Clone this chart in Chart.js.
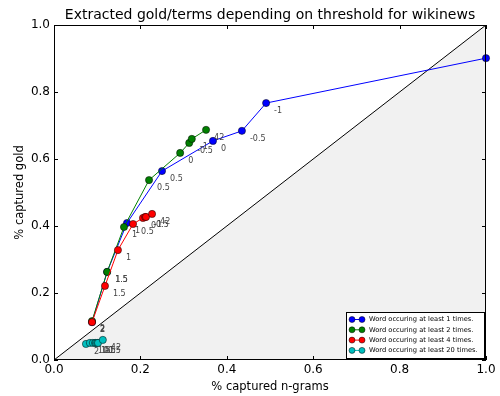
<!DOCTYPE html>
<html>
<head>
<meta charset="utf-8">
<script src="https://cdn.jsdelivr.net/npm/chart.js@4.4.1/dist/chart.umd.min.js"></script>
<style>
  body { margin: 0; background: #fff; }
  canvas { display: block; }
</style>
</head>
<body>
<canvas id="chart" width="500" height="396"></canvas>
<script>
// threshold value written next to every point
const thresholds = ['2', '1.5', '1', '0.5', '0', '-0.5', '-1', '42'];

const blueX  = [0.088, 0.123, 0.169, 0.250, 0.368, 0.435, 0.491, 1.000];
const blueY  = [0.113, 0.263, 0.409, 0.564, 0.654, 0.684, 0.767, 0.901];
const greenX = [0.088, 0.123, 0.162, 0.220, 0.292, 0.313, 0.319, 0.352];
const greenY = [0.116, 0.263, 0.397, 0.537, 0.618, 0.648, 0.660, 0.687];
const redX   = [0.088, 0.118, 0.148, 0.183, 0.206, 0.211, 0.213, 0.227];
const redY   = [0.113, 0.221, 0.328, 0.406, 0.424, 0.427, 0.427, 0.436];
const cyanX  = [0.074, 0.083, 0.090, 0.095, 0.097, 0.100, 0.102, 0.113];
const cyanY  = [0.048, 0.051, 0.051, 0.051, 0.051, 0.051, 0.051, 0.060];

const seriesNames = [
    'Word occuring at least 1 times.',
    'Word occuring at least 2 times.',
    'Word occuring at least 4 times.',
    'Word occuring at least 20 times.'
];
const seriesColors = ['#0000ff', '#008000', '#ff0000', '#00bfbf'];

const xTicks = [0, 0.2, 0.4, 0.6, 0.8, 1.0];
const yTicks = [0, 0.2, 0.4, 0.6, 0.8, 1.0];

const FONT = 'DejaVu Sans';

function pts(xs, ys) {
    return xs.map((x, i) => ({ x: x, y: ys[i] }));
}

function series(i, xs, ys) {
    return {
        label: seriesNames[i],
        data: pts(xs, ys),
        showLine: true,
        borderColor: seriesColors[i],
        borderWidth: 1,
        pointRadius: 3.6,
        pointBackgroundColor: seriesColors[i],
        pointBorderColor: '#000',
        pointBorderWidth: 0.5,
        order: 4 - i,
        clip: false,
        isSeries: true
    };
}

// frame, inward ticks, title, point labels and legend
const decor = {
    id: 'decor',
    afterDatasetsDraw(chart) {
        const c = chart.ctx;
        const a = chart.chartArea;

        // threshold labels
        c.save();
        c.beginPath();
        c.rect(a.left, a.top, a.right - a.left, a.bottom - a.top);
        c.clip();
        c.font = '8px "' + FONT + '"';
        c.fillStyle = '#444';
        c.textAlign = 'left';
        c.textBaseline = 'middle';
        chart.data.datasets.forEach((ds, di) => {
            if (!ds.isSeries) return;
            chart.getDatasetMeta(di).data.forEach((el, i) => {
                c.fillText(thresholds[i], el.x + 8, el.y + 8);
            });
        });
        c.restore();
    },
    afterDraw(chart) {
        const c = chart.ctx;
        const a = chart.chartArea;
        const xs = chart.scales.x, ys = chart.scales.y;
        c.save();

        // frame
        c.strokeStyle = '#000';
        c.lineWidth = 1;
        c.strokeRect(a.left + 0.5, a.top + 0.5, a.right - a.left - 1, a.bottom - a.top - 1);

        // ticks on all four sides, pointing inward
        c.beginPath();
        xTicks.forEach(v => {
            const px = Math.round(xs.getPixelForValue(v)) + 0.5;
            c.moveTo(px, a.bottom); c.lineTo(px, a.bottom - 4);
            c.moveTo(px, a.top); c.lineTo(px, a.top + 4);
        });
        yTicks.forEach(v => {
            const py = Math.round(ys.getPixelForValue(v)) + 0.5;
            c.moveTo(a.left, py); c.lineTo(a.left + 4, py);
            c.moveTo(a.right, py); c.lineTo(a.right - 4, py);
        });
        c.stroke();

        // title
        c.fillStyle = '#000';
        c.font = '14px "' + FONT + '"';
        c.textAlign = 'center';
        c.textBaseline = 'middle';
        c.fillText('Extracted gold/terms depending on threshold for wikinews', (a.left + a.right) / 2, 15);

        // legend box in the lower right corner
        const bx = 346, by = 312, bw = 138, bh = 46;
        c.fillStyle = '#fff';
        c.fillRect(bx, by, bw, bh);
        c.strokeStyle = '#000';
        c.lineWidth = 1;
        c.strokeRect(bx + 0.5, by + 0.5, bw, bh);
        c.font = '6.7px "' + FONT + '"';
        c.textAlign = 'left';
        c.textBaseline = 'middle';
        seriesNames.forEach((name, i) => {
            const ry = by + 7.5 + i * 10.3;
            c.strokeStyle = seriesColors[i];
            c.beginPath();
            c.moveTo(bx + 6, ry); c.lineTo(bx + 16, ry);
            c.stroke();
            [bx + 6, bx + 16].forEach(px => {
                c.beginPath();
                c.arc(px, ry, 3, 0, Math.PI * 2);
                c.fillStyle = seriesColors[i];
                c.fill();
                c.strokeStyle = '#000';
                c.lineWidth = 0.5;
                c.stroke();
                c.lineWidth = 1;
            });
            c.fillStyle = '#000';
            c.fillText(name, bx + 23, ry);
        });
        c.restore();
    }
};

const ctx = document.getElementById('chart').getContext('2d');
const chart = new Chart(ctx, {
    type: 'scatter',
    data: {
        datasets: [
            {
                label: 'diagonal',
                data: [{ x: 0, y: 0 }, { x: 1, y: 1 }],
                showLine: true,
                borderColor: '#000',
                borderWidth: 1,
                backgroundColor: '#f1f1f1',
                fill: 'origin',
                pointRadius: 0,
                order: 10
            },
            series(0, blueX, blueY),
            series(1, greenX, greenY),
            series(2, redX, redY),
            series(3, cyanX, cyanY)
        ]
    },
    options: {
        responsive: false,
        animation: false,
        layout: { padding: { top: 25, right: 14, left: 0, bottom: 0 } },
        plugins: {
            legend: { display: false },
            tooltip: { enabled: false },
            title: { display: false }
        },
        scales: {
            x: {
                type: 'linear',
                min: 0, max: 1,
                grid: { display: false, drawTicks: false },
                border: { display: false },
                afterBuildTicks: s => { s.ticks = xTicks.map(v => ({ value: v })); },
                ticks: {
                    padding: 3,
                    color: '#000',
                    font: { family: FONT, size: 12 },
                    maxRotation: 0,
                    callback: v => v.toFixed(1)
                },
                title: {
                    display: true,
                    text: '% captured n-grams',
                    color: '#000',
                    font: { family: FONT, size: 11.5 },
                    padding: { top: 2, bottom: 2 }
                },
                afterFit: s => { s.height = 36; }
            },
            y: {
                type: 'linear',
                min: 0, max: 1,
                grid: { display: false, drawTicks: false },
                border: { display: false },
                afterBuildTicks: s => { s.ticks = yTicks.map(v => ({ value: v })); },
                ticks: {
                    padding: 4,
                    color: '#000',
                    font: { family: FONT, size: 12 },
                    callback: v => v.toFixed(1)
                },
                title: {
                    display: true,
                    text: '% captured gold',
                    color: '#000',
                    font: { family: FONT, size: 11.5 },
                    padding: { top: 13, bottom: 0 }
                },
                afterFit: s => { s.width = 54; }
            }
        }
    },
    plugins: [decor]
});
</script>
</body>
</html>
